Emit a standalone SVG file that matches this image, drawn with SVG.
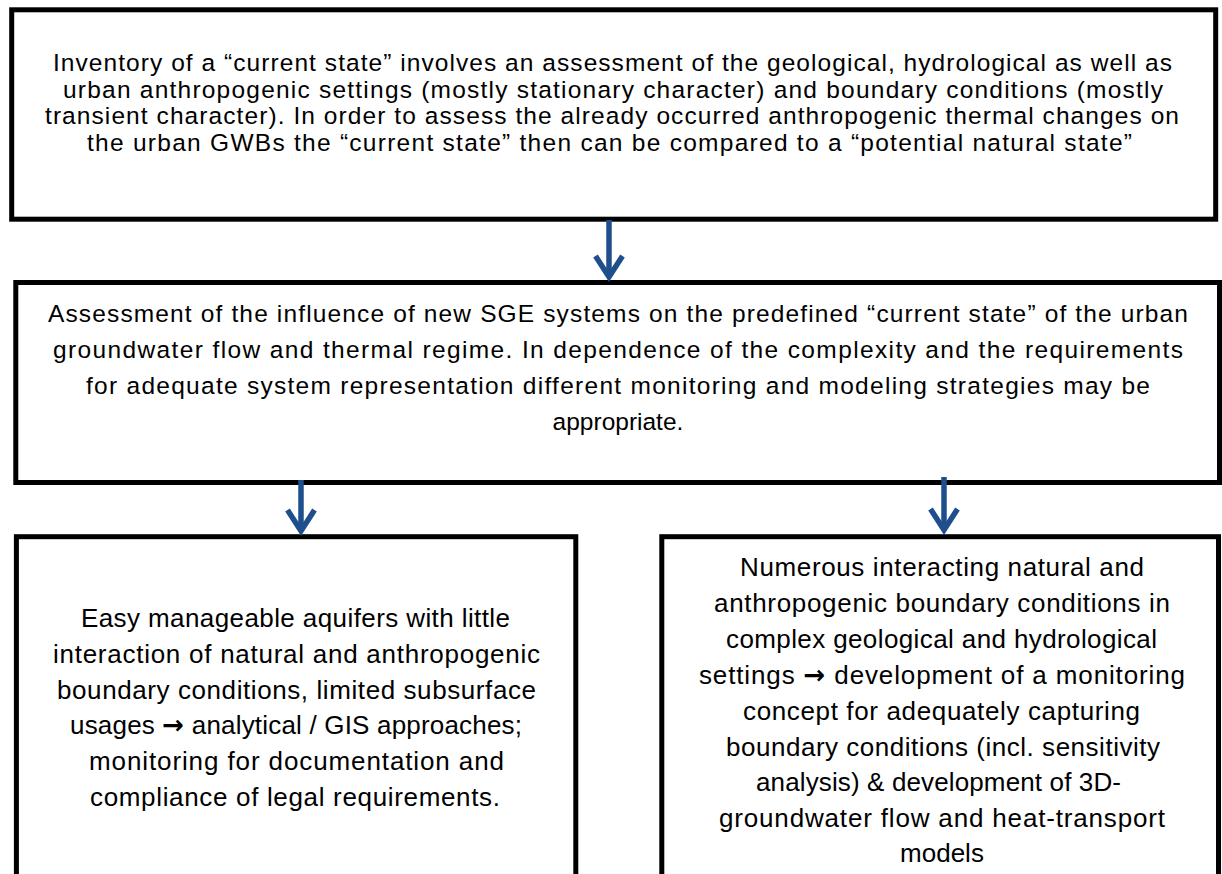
<svg xmlns="http://www.w3.org/2000/svg" width="1222" height="874" viewBox="0 0 1222 874">
  <style>
    .box { fill: #ffffff; stroke: #000000; stroke-width: 5; }
    .t { font-family: "Liberation Sans", Arial, sans-serif; fill: #000000; }
    .s { font-size: 24.5px; }
    .l { font-size: 26px; }
    .arr { font-family: "DejaVu Sans", sans-serif; font-weight: bold; }
    .conn { fill: none; stroke: #1f4e8c; stroke-width: 5.5; }
  </style>
  <defs>
    <marker id="head" markerUnits="userSpaceOnUse" viewBox="-30 -20 40 40" refX="0" refY="0" markerWidth="40" markerHeight="40" orient="auto" overflow="visible">
      <path d="M-21,-13.5 L0,0 L-21,13.5" fill="none" stroke="#1f4e8c" stroke-width="5.5" stroke-linejoin="miter"/>
    </marker>
  </defs>
  <rect x="0" y="0" width="1222" height="874" fill="#ffffff"/>

  <g id="node-current-state">
    <rect class="box" x="11.7" y="9.8" width="1204" height="209.4"/>
    <text class="t s" x="53" y="71" textLength="1119" lengthAdjust="spacing">Inventory of a “current state” involves an assessment of the geological, hydrological as well as</text>
    <text class="t s" x="63" y="97.5" textLength="1100" lengthAdjust="spacing">urban anthropogenic settings (mostly stationary character) and boundary conditions (mostly</text>
    <text class="t s" x="45" y="124" textLength="1134" lengthAdjust="spacing">transient character). In order to assess the already occurred anthropogenic thermal changes on</text>
    <text class="t s" x="87" y="150.5" textLength="1045" lengthAdjust="spacing">the urban GWBs the “current state” then can be compared to a “potential natural state”</text>
  </g>

  <g id="node-assessment">
    <rect class="box" x="15.8" y="282.5" width="1203.7" height="200"/>
    <text class="t s" x="48" y="322" textLength="1140" lengthAdjust="spacing">Assessment of the influence of new SGE systems on the predefined “current state” of the urban</text>
    <text class="t s" x="53" y="358" textLength="1130" lengthAdjust="spacing">groundwater flow and thermal regime. In dependence of the complexity and the requirements</text>
    <text class="t s" x="86" y="394" textLength="1064" lengthAdjust="spacing">for adequate system representation different monitoring and modeling strategies may be</text>
    <text class="t s" x="618" y="430" text-anchor="middle">appropriate.</text>
  </g>

  <g id="node-simple">
    <rect class="box" x="16.4" y="536.7" width="559.4" height="400"/>
    <text class="t l" x="81" y="627" textLength="429" lengthAdjust="spacing">Easy manageable aquifers with little</text>
    <text class="t l" x="53" y="663" textLength="487" lengthAdjust="spacing">interaction of natural and anthropogenic</text>
    <text class="t l" x="57" y="698.5" textLength="479" lengthAdjust="spacing">boundary conditions, limited subsurface</text>
    <text class="t l" x="70" y="734" textLength="452" lengthAdjust="spacing">usages <tspan class="arr">→</tspan> analytical / GIS approaches;</text>
    <text class="t l" x="89" y="770" textLength="415" lengthAdjust="spacing">monitoring for documentation and</text>
    <text class="t l" x="90" y="805.5" textLength="410" lengthAdjust="spacing">compliance of legal requirements.</text>
  </g>

  <g id="node-complex">
    <rect class="box" x="661.8" y="536.7" width="556.7" height="400"/>
    <text class="t l" x="740" y="576" textLength="404" lengthAdjust="spacing">Numerous interacting natural and</text>
    <text class="t l" x="714" y="612" textLength="456" lengthAdjust="spacing">anthropogenic boundary conditions in</text>
    <text class="t l" x="726" y="648" textLength="431" lengthAdjust="spacing">complex geological and hydrological</text>
    <text class="t l" x="699" y="684" textLength="486" lengthAdjust="spacing">settings <tspan class="arr">→</tspan> development of a monitoring</text>
    <text class="t l" x="743" y="720" textLength="397" lengthAdjust="spacing">concept for adequately capturing</text>
    <text class="t l" x="726" y="755.5" textLength="434" lengthAdjust="spacing">boundary conditions (incl. sensitivity</text>
    <text class="t l" x="756" y="791" textLength="365" lengthAdjust="spacing">analysis) &amp; development of 3D-</text>
    <text class="t l" x="719" y="827" textLength="446" lengthAdjust="spacing">groundwater flow and heat-transport</text>
    <text class="t l" x="942" y="862" text-anchor="middle">models</text>
  </g>

  <g id="connectors">
    <path class="conn" d="M609,220 V277" marker-end="url(#head)"/>
    <path class="conn" d="M301,480 V531" marker-end="url(#head)"/>
    <path class="conn" d="M944,477 V530" marker-end="url(#head)"/>
  </g>
</svg>
